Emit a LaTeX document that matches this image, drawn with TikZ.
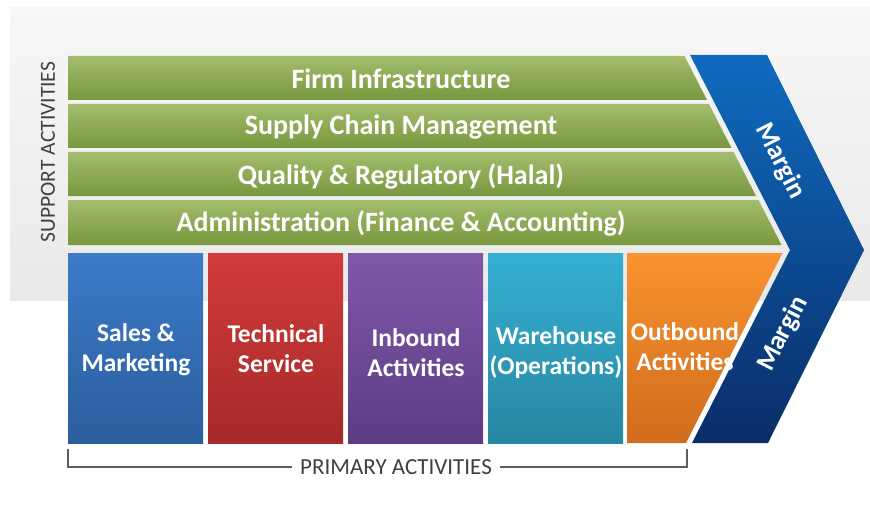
\documentclass[tikz,border=0pt]{standalone}
\usepackage{fontspec}
\setmainfont{Carlito}
\usetikzlibrary{positioning}

\definecolor{backtop}{HTML}{F7F7F7}
\definecolor{backbot}{HTML}{E9E9E9}
\definecolor{greentop}{HTML}{A3BD6C}
\definecolor{greenbot}{HTML}{78973E}
\definecolor{bluetop}{HTML}{3B7BC8}
\definecolor{bluebot}{HTML}{2B5E9E}
\definecolor{redtop}{HTML}{D23B39}
\definecolor{redbot}{HTML}{A52A2A}
\definecolor{purptop}{HTML}{8057A9}
\definecolor{purpbot}{HTML}{5C3D85}
\definecolor{tealtop}{HTML}{35B0D2}
\definecolor{tealbot}{HTML}{2787A2}
\definecolor{orngtop}{HTML}{F9932F}
\definecolor{orngbot}{HTML}{D06C1C}
\definecolor{chevtop}{HTML}{0F6BC0}
\definecolor{chevmid}{HTML}{0A4C9E}
\definecolor{chevbot}{HTML}{0A2D68}
\definecolor{labelgray}{HTML}{404040}

\begin{document}
\begin{tikzpicture}[x=1pt,y=-1pt,
    bar/.style={top color=greentop,bottom color=greenbot},
    bartext/.style={text=white,font=\bfseries\fontsize{28}{32}\selectfont},
    boxtext/.style={text=white,align=center,font=\bfseries\fontsize{25.5}{30}\selectfont},
    margintext/.style={text=white,font=\bfseries\fontsize{27}{30}\selectfont},
    sidetext/.style={text=labelgray,font=\fontsize{21.5}{25}\selectfont},
    bracket/.style={draw=labelgray!85,line width=2pt}]

  \useasboundingbox (0,0) rectangle (870,508);
  \fill[white] (0,0) rectangle (870,508);
  % grey panel behind the top half
  \shade[top color=backtop,bottom color=backbot] (10,8) rectangle (870,300);

  % support rows, cut along the chevron
  \shade[bar] (68,56) -- (684.5,56) -- (707,100) -- (68,100) -- cycle;
  \shade[bar] (68,104) -- (709,104) -- (731.5,148) -- (68,148) -- cycle;
  \shade[bar] (68,152) -- (733.5,152) -- (756,196) -- (68,196) -- cycle;
  \shade[bar] (68,200) -- (758.5,200) -- (781.5,245) -- (68,245) -- cycle;

  % primary boxes
  \shade[top color=bluetop,bottom color=bluebot] (68,253) rectangle (203,443);
  \shade[top color=redtop,bottom color=redbot] (208,253) rectangle (343,443);
  \shade[top color=purptop,bottom color=purpbot] (348,253) rectangle (483,443);
  \shade[top color=tealtop,bottom color=tealbot] (488,253) rectangle (623,443);
  \shade[top color=orngtop,bottom color=orngbot]
    (627,253) -- (782.5,253) -- (686,443) -- (627,443) -- cycle;

  % margin chevron
  \shade[top color=chevtop,middle color=chevmid,bottom color=chevbot]
    (690,55) -- (767,55) -- (864,250) -- (768,443) -- (692,443) -- (790,250) -- cycle;

  \node[bartext] (infra) at (401,79) {Firm Infrastructure};
  \node[bartext] (scm) at (401,127) {Supply Chain Management};
  \node[bartext] (quality) at (401,176) {Quality \& Regulatory (Halal)};
  \node[bartext] (admin) at (401,223) {Administration (Finance \& Accounting)};

  \node[boxtext] (sales) at (136,350) {Sales \&\\Marketing};
  \node[boxtext] (tech) at (276,349) {Technical\\Service};
  \node[boxtext] (inbound) at (416,353) {Inbound\\Activities};
  \node[boxtext] (warehouse) at (556,353) {Warehouse\\(Operations)};
  \node[boxtext] (outbound) at (685,347) {Outbound\\Activities};

  \node[margintext,rotate=-63] (margintop) at (780,161) {Margin};
  \node[margintext,rotate=63] (marginbot) at (783,334) {Margin};

  \node[sidetext,rotate=90] (support) at (48,152) {SUPPORT ACTIVITIES};
  \node[sidetext,font=\fontsize{23}{26}\selectfont,inner xsep=8pt] (primary) at (396,467) {PRIMARY ACTIVITIES};
  \coordinate (pleft) at (68,449);
  \coordinate (pright) at (687,449);
  \draw[bracket] (pleft) |- (primary.west);
  \draw[bracket] (primary.east) -| (pright);
\end{tikzpicture}
\end{document}
